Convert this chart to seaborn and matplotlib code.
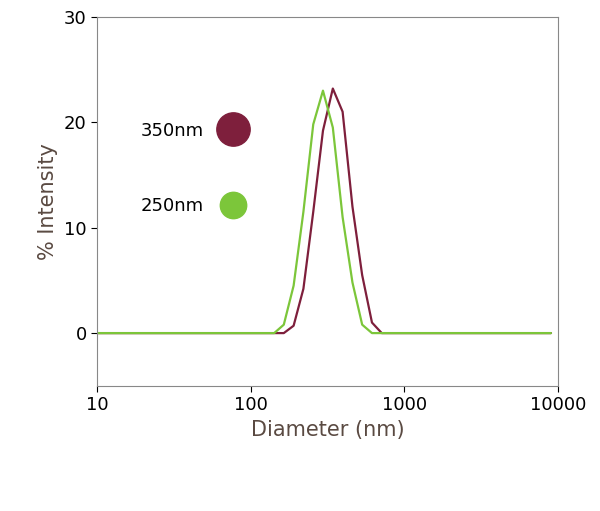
import numpy as np
import seaborn as sns
import matplotlib.pyplot as plt
from matplotlib.lines import Line2D

sns.set_style("white")
plt.rcParams['font.family'] = ['DejaVu Sans']

d350 = [10, 164, 190, 220, 255, 295, 342, 396, 459, 531, 615, 712, 9000]
i350 = [0, 0, 0.7, 4.2, 11.5, 19.2, 23.2, 21.0, 12.0, 5.5, 1.0, 0, 0]
d250 = [10, 142, 164, 190, 220, 255, 295, 342, 396, 459, 531, 615, 9000]
i250 = [0, 0, 0.8, 4.5, 11.5, 19.8, 23.0, 19.5, 11.0, 4.8, 0.8, 0, 0]
c350 = "#7e1f3c"
c250 = "#7cc63a"
brown = "#5a4a42"

fig = plt.figure(figsize=(6, 5.11), dpi=100)
ax = fig.add_axes([0.162, 0.245, 0.768, 0.722])
sns.lineplot(x=d350, y=i350, ax=ax, color=c350, linewidth=1.6)
sns.lineplot(x=d250, y=i250, ax=ax, color=c250, linewidth=1.6)
ax.set_xscale("log")
ax.set_xlim(10, 10000)
ax.set_ylim(-5, 30)
ax.set_yticks([0, 10, 20, 30])
ax.set_xticks([10, 100, 1000, 10000])
ax.set_xticklabels(["10", "100", "1000", "10000"])
ax.minorticks_off()
ax.tick_params(labelsize=13, colors="black", length=4, direction="out", bottom=True, left=True)
for s in ax.spines.values():
    s.set_color("#888888")
ax.set_xlabel("Diameter (nm)", fontsize=15, color=brown)
ax.set_ylabel("% Intensity", fontsize=15, color=brown)

handles = [Line2D([], [], ls="", marker="o", ms=24, color=c350),
           Line2D([], [], ls="", marker="o", ms=19, color=c250)]
leg = ax.legend(handles, ["350nm", "250nm"], loc="upper left", bbox_to_anchor=(0.06, 0.76),
                frameon=False, markerfirst=False, fontsize=13, labelspacing=3.2,
                handletextpad=0.6)
for t in leg.get_texts():
    t.set_color("black")

plt.savefig("out.png", dpi=100)
